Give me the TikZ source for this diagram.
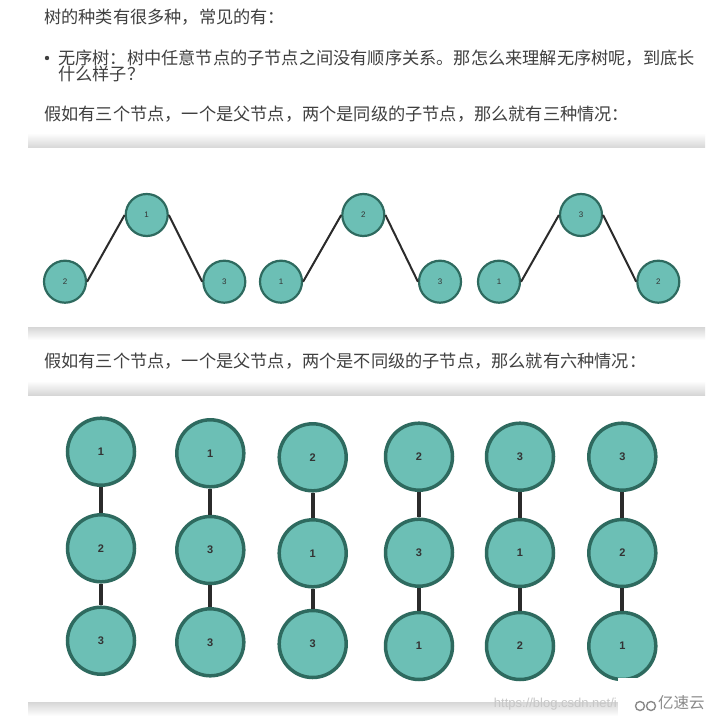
\documentclass[tikz,border=0pt]{standalone}
\usepackage{fontspec}
\newfontfamily\cjk{Noto Sans CJK SC}
\newfontfamily\arial{Liberation Sans}
\definecolor{txt}{HTML}{404040}
\definecolor{nodefill}{HTML}{6CBFB5}
\definecolor{nodeedge}{HTML}{2E6A5F}
\definecolor{edgecol}{HTML}{2B2B2B}
\definecolor{shadow}{HTML}{D6D6D6}
\definecolor{wm}{HTML}{8A8A8A}
\begin{document}
\begin{tikzpicture}[x=1pt,y=-1pt,
  para/.style={anchor=west,inner sep=0,text=txt,font=\cjk\fontsize{17.2}{18}\selectfont},
  small/.style={circle,draw=nodeedge,fill=nodefill,line width=2.2pt,minimum size=42pt,inner sep=0,font=\arial\fontsize{8}{9}\selectfont,text=black!80},
  big/.style={circle,draw=nodeedge,fill=nodefill,line width=3.5pt,minimum size=67pt,inner sep=0,font=\arial\bfseries\fontsize{11}{12}\selectfont,text=black!80},
  thinedge/.style={draw=edgecol,line width=2pt},
  thickedge/.style={draw=edgecol,line width=4pt}]
\useasboundingbox (0,0) rectangle (718,722);
\fill[white] (0,0) rectangle (718,722);

% texts
\node[para] (t1) at (44,17) {树的种类有很多种，常见的有：};
\fill[txt] (47,58) circle (2.2pt);
\node[para] (t2) at (58,58) {无序树：树中任意节点的子节点之间没有顺序关系。那怎么来理解无序树呢，到底长};
\node[para] (t2b) at (58,74) {什么样子？};
\node[para] (t3) at (44,114) {假如有三个节点，一个是父节点，两个是同级的子节点，那么就有三种情况：};
\node[para] (t4) at (44,361) {假如有三个节点，一个是父节点，两个是不同级的子节点，那么就有六种情况：};

% panel shadows
\shade[top color=white,bottom color=shadow] (28,133) rectangle (705,148);
\shade[top color=shadow,bottom color=white] (28,327) rectangle (705,340);
\shade[top color=white,bottom color=shadow] (28,381) rectangle (705,395);
\shade[top color=shadow,bottom color=white] (28,702) rectangle (705,716);

% top panel
\node[small] (a2) at (65,281.7) {2};
\node[small] (a1) at (146.7,215) {1};
\node[small] (a3) at (224.3,281.7) {3};
\node[small] (b1) at (281,281.7) {1};
\node[small] (b2) at (363.3,215) {2};
\node[small] (b3) at (440,281.7) {3};
\node[small] (c1) at (499,281.7) {1};
\node[small] (c3) at (581,215) {3};
\node[small] (c2) at (658.3,281.7) {2};
\draw[thinedge] (a2.east) -- (a1.west);
\draw[thinedge] (a1.east) -- (a3.west);
\draw[thinedge] (b1.east) -- (b2.west);
\draw[thinedge] (b2.east) -- (b3.west);
\draw[thinedge] (c1.east) -- (c3.west);
\draw[thinedge] (c3.east) -- (c2.west);

% bottom panel
\node[big] (p1) at (101,451.7) {1};
\node[big] (p2) at (101,548.3) {2};
\node[big] (p3) at (101,640.7) {3};
\node[big] (q1) at (210.3,453.3) {1};
\node[big] (q2) at (210.3,550) {3};
\node[big] (q3) at (210.3,642.3) {3};
\node[big] (r1) at (312.7,457.3) {2};
\node[big] (r2) at (312.7,553.3) {1};
\node[big] (r3) at (312.7,644) {3};
\node[big] (s1) at (419,456.7) {2};
\node[big] (s2) at (419,552.7) {3};
\node[big] (s3) at (419,646) {1};
\node[big] (u1) at (520,456.7) {3};
\node[big] (u2) at (520,553) {1};
\node[big] (u3) at (520,646) {2};
\node[big] (v1) at (622.3,456.7) {3};
\node[big] (v2) at (622.3,553) {2};
\node[big] (v3) at (622.3,646) {1};
\foreach \c in {p,q,r,s,u,v}{
  \draw[thickedge] (\c1.south) -- (\c2.north);
  \draw[thickedge] (\c2.south) -- (\c3.north);
}

% watermark
\fill[white] (618,678) rectangle (718,722);
\node[anchor=east,inner sep=0,text=black!22,font=\arial\fontsize{13}{14}\selectfont] (wm1) at (617,704) {https://blog.csdn.net/i};
\draw[wm,line width=1.4pt] (640,706) circle (4.5pt);
\draw[wm,line width=1.4pt] (651,706) circle (4.5pt);
\node[anchor=west,inner sep=0,text=wm,font=\cjk\fontsize{15.5}{16}\selectfont] (wm2) at (658,703) {亿速云};
\end{tikzpicture}
\end{document}
